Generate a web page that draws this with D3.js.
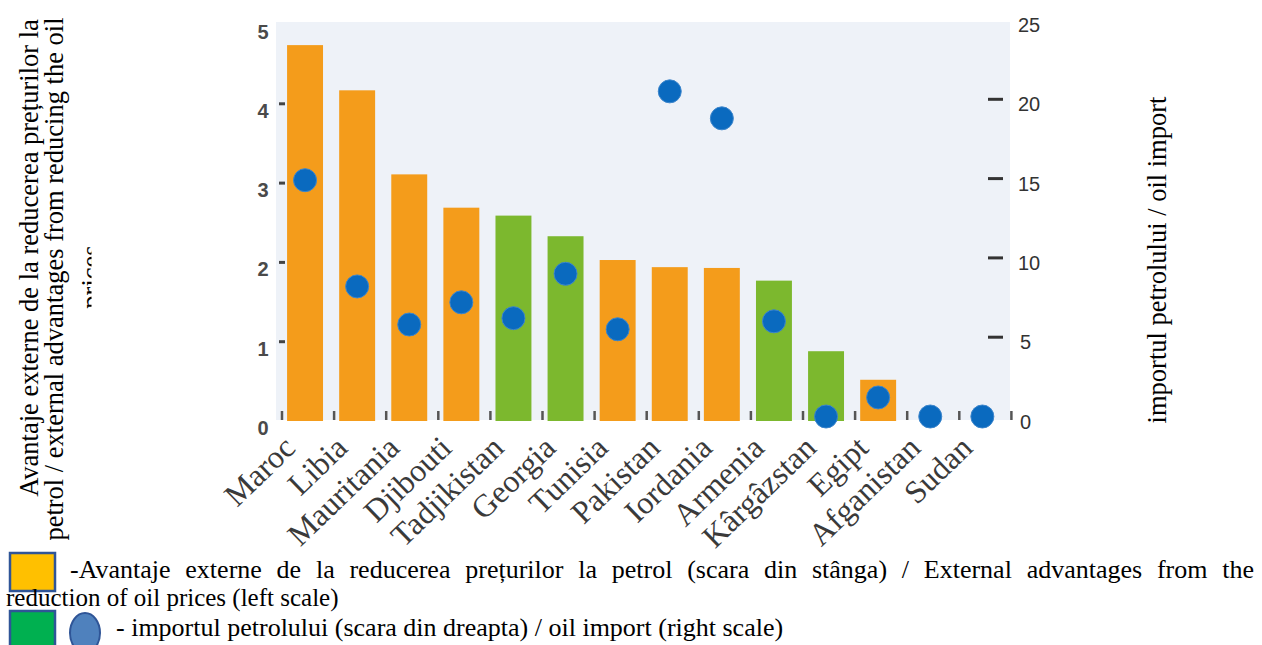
<!DOCTYPE html>
<html>
<head>
<meta charset="utf-8">
<script src="https://cdn.jsdelivr.net/npm/d3@7"></script>
<style>
  body { margin: 0; background: #fff; }
  svg { display: block; }
</style>
</head>
<body>
<svg id="chart" width="1262" height="645"></svg>
<script>
// data
const countries = ['Maroc', 'Libia', 'Mauritania', 'Djibouti', 'Tadjikistan', 'Georgia', 'Tunisia',
    'Pakistan', 'Iordania', 'Armenia', 'Kârgâzstan', 'Egipt', 'Afganistan', 'Sudan'];
const advantage = [4.74, 4.17, 3.11, 2.69, 2.59, 2.33, 2.03, 1.94, 1.93, 1.77, 0.88, 0.52, 0, 0];
const oilImport = [14.9, 8.2, 5.8, 7.2, 6.2, 9.0, 5.5, 20.5, 18.8, 6.0, 0, 1.2, 0, 0];
const barKind = ['o', 'o', 'o', 'o', 'g', 'g', 'o', 'o', 'o', 'g', 'g', 'o', 'o', 'o'];
const leftTicks = [0, 1, 2, 3, 4, 5];
const rightTicks = [0, 5, 10, 15, 20, 25];

const leftTitle = ['Avantaje externe de la reducerea prețurilor la',
    'petrol / external advantages from reducing the oil', 'prices'];
const rightTitle = 'importul petrolului / oil import';
const legendLine1 = '-Avantaje externe de la reducerea prețurilor la petrol (scara din stânga) / External advantages from the';
const legendLine2 = 'reduction of oil prices (left scale)';
const legendLine3 = '- importul petrolului (scara din dreapta) / oil import (right scale)';

const colors = { o: '#f49c1b', g: '#7cb82e', dot: '#0a6abf', bg: '#eef2f8' };
const serif = '"Liberation Serif", "Times New Roman", serif';
const sans = '"Liberation Sans", Arial, sans-serif';

const svg = d3.select('#chart');

const xScale = d3.scaleBand()
    .domain(countries)
    .range([279, 1008.4])
    .paddingInner(0.31)
    .paddingOuter(0.155);
const yLeft = d3.scaleLinear().domain([0, 5]).range([421, 24.5]);
const yRight = d3.scaleLinear().domain([0, 25]).range([416.5, 20]);
const bw = xScale.bandwidth();
const step = xScale.step();

// plot background
svg.append('rect')
    .attr('x', 276)
    .attr('y', 22)
    .attr('width', 734)
    .attr('height', 398)
    .attr('fill', colors.bg);

// bars
svg.append('g')
    .selectAll('rect')
    .data(countries)
    .enter()
    .append('rect')
    .attr('x', d => xScale(d))
    .attr('y', (d, i) => yLeft(advantage[i]))
    .attr('width', bw)
    .attr('height', (d, i) => yLeft(0) - yLeft(advantage[i]))
    .attr('fill', (d, i) => colors[barKind[i]]);

// bottom tick marks between bars
const bottomTicks = d3.range(countries.length + 1);
svg.append('g')
    .selectAll('line')
    .data(bottomTicks)
    .enter()
    .append('line')
    .attr('x1', k => xScale.range()[0] + k * step + 3)
    .attr('x2', k => xScale.range()[0] + k * step + 3)
    .attr('y1', yLeft(0) - 10)
    .attr('y2', yLeft(0) - 1)
    .attr('stroke', '#555')
    .attr('stroke-width', 2.5);

// left axis
const gL = svg.append('g');
gL.selectAll('line')
    .data(leftTicks.filter(v => v > 0 && v < 5))
    .enter()
    .append('line')
    .attr('x1', 279)
    .attr('x2', 285)
    .attr('y1', d => yLeft(d))
    .attr('y2', d => yLeft(d))
    .attr('stroke', '#444')
    .attr('stroke-width', 3);
gL.selectAll('text')
    .data(leftTicks)
    .enter()
    .append('text')
    .attr('x', 263)
    .attr('y', d => yLeft(d) + 7)
    .attr('text-anchor', 'middle')
    .attr('dominant-baseline', 'central')
    .style('font-family', sans)
    .style('font-size', '20px')
    .style('font-weight', 'bold')
    .style('fill', '#4a4a4a')
    .text(d => d);

// right axis
const gR = svg.append('g');
gR.selectAll('line')
    .data(rightTicks.filter(v => v > 0 && v < 25))
    .enter()
    .append('line')
    .attr('x1', 988)
    .attr('x2', 1003)
    .attr('y1', d => yRight(d))
    .attr('y2', d => yRight(d))
    .attr('stroke', '#333')
    .attr('stroke-width', 3);
gR.selectAll('text')
    .data(rightTicks)
    .enter()
    .append('text')
    .attr('x', d => (d < 10 ? 1020 : 1018))
    .attr('y', d => yRight(d) + 5)
    .attr('dominant-baseline', 'central')
    .style('font-family', sans)
    .style('font-size', '20px')
    .style('fill', '#333')
    .text(d => d);

// dots
svg.append('g')
    .selectAll('circle')
    .data(countries)
    .enter()
    .append('circle')
    .attr('cx', d => xScale(d) + bw / 2)
    .attr('cy', (d, i) => yRight(oilImport[i]))
    .attr('r', 11.5)
    .attr('fill', colors.dot)
    .attr('stroke', '#3d86cc')
    .attr('stroke-width', 1);

// country labels
svg.append('g')
    .selectAll('text')
    .data(countries)
    .enter()
    .append('text')
    .attr('transform', d => 'translate(' + (xScale(d) + bw / 2 - 8) + ',450) rotate(-44)')
    .attr('text-anchor', 'end')
    .style('font-family', serif)
    .style('font-size', '32px')
    .style('fill', '#3a3a3a')
    .text(d => d);

// axis titles
svg.append('defs')
    .append('clipPath')
    .attr('id', 'titleclip')
    .append('rect')
    .attr('x', 0)
    .attr('y', 0)
    .attr('width', 91.5)
    .attr('height', 645);

const titlePos = [[38, 258], [63, 279], [100, 277]];
svg.append('g')
    .attr('clip-path', 'url(#titleclip)')
    .selectAll('text')
    .data(leftTitle)
    .enter()
    .append('text')
    .attr('transform', (d, i) => 'translate(' + titlePos[i][0] + ',' + titlePos[i][1] + ') rotate(-90)')
    .attr('text-anchor', 'middle')
    .style('font-family', serif)
    .style('font-size', '26.5px')
    .style('fill', '#000')
    .text(d => d);

svg.append('text')
    .attr('transform', 'translate(1166,260) rotate(-90)')
    .attr('text-anchor', 'middle')
    .style('font-family', serif)
    .style('font-size', '26.5px')
    .style('fill', '#000')
    .text(rightTitle);

// legend
const legend = svg.append('g');
legend.append('rect')
    .attr('x', 10).attr('y', 553).attr('width', 45).attr('height', 38)
    .attr('fill', '#ffc000').attr('stroke', '#2f5597').attr('stroke-width', 2.5);
legend.append('rect')
    .attr('x', 10).attr('y', 611).attr('width', 45).attr('height', 40)
    .attr('fill', '#00b050').attr('stroke', '#2f5597').attr('stroke-width', 2.5);
legend.append('ellipse')
    .attr('cx', 85).attr('cy', 633).attr('rx', 15).attr('ry', 20)
    .attr('fill', '#4f81bd').attr('stroke', '#2f5597').attr('stroke-width', 2);

// justified first line
function justify(g, str, x0, x1, y, size) {
    const words = str.split(' ');
    const nodes = words.map(w => g.append('text')
        .attr('y', y)
        .style('font-family', serif)
        .style('font-size', size + 'px')
        .style('fill', '#000')
        .text(w));
    const widths = nodes.map(n => n.node().getComputedTextLength());
    const gap = (x1 - x0 - d3.sum(widths)) / (words.length - 1);
    let x = x0;
    nodes.forEach((n, i) => {
        n.attr('x', x);
        x += widths[i] + gap;
    });
}
justify(legend, legendLine1, 70, 1254, 578, 26);

legend.append('text')
    .attr('x', 6).attr('y', 606)
    .style('font-family', serif).style('font-size', '25px').style('fill', '#000')
    .text(legendLine2);
legend.append('text')
    .attr('x', 116).attr('y', 636)
    .style('font-family', serif).style('font-size', '26px').style('fill', '#000')
    .text(legendLine3);
</script>
</body>
</html>
